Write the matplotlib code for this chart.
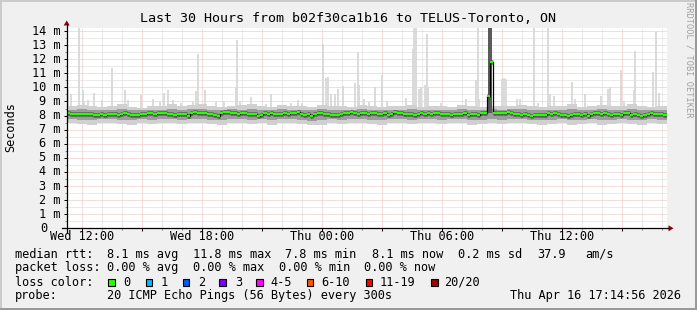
import matplotlib
matplotlib.use('Agg')
import matplotlib.pyplot as plt
import numpy as np
from matplotlib.patches import Rectangle, Polygon
from matplotlib.lines import Line2D
import matplotlib.transforms as mtransforms

W, H = 697, 310
MONO = 'DejaVu Sans Mono'

# ---------------- data ----------------
start_hour = 11.25          # Wed 11:15, left edge of the 30 h window
end_hour = 41.25
median_step = 1 / 6         # 10 minute bins
median_ms = [
    8.16, 8.14, 8.09, 8.09, 8.10, 8.09, 8.12, 8.14, 8.04, 8.04,
    8.09, 8.07, 8.09, 8.09, 8.10, 8.07, 8.09, 8.16, 8.12, 8.04,
    8.04, 8.06, 8.09, 8.10, 8.16, 8.16, 8.14, 8.19, 8.21, 8.20,
    8.09, 8.09, 8.07, 8.14, 8.12, 8.14,
    7.95, 8.20, 8.23, 8.21, 8.16, 8.16, 8.14, 8.09, 8.07, 8.00,
    8.16, 8.26, 8.28, 8.21, 8.16, 8.14, 8.16, 8.16, 8.14, 8.12,
    8.12, 8.00, 8.04, 8.16, 8.14, 8.16, 8.09, 8.09, 8.12, 8.16,
    8.14, 8.16, 8.21, 8.23, 8.09, 8.06,
    8.09, 8.00, 8.09, 8.16, 8.16, 8.14, 8.09, 8.06, 8.04, 8.04,
    8.09, 8.16, 8.16, 8.23, 8.21, 8.14, 8.16, 8.16, 8.14, 8.16,
    8.16, 8.12, 8.14, 8.16, 8.04, 8.09, 8.23, 8.16, 8.16, 8.14,
    8.12, 8.09, 8.07, 8.09, 8.16, 8.14,
    8.16, 8.14, 8.16, 8.16, 8.14, 8.12, 8.09, 8.07, 8.09, 8.14,
    8.09, 8.16, 8.07, 8.14, 8.12, 8.04, 8.16, 8.16, 9.40, 11.80,
    8.21, 8.21, 8.19, 8.21, 8.23, 8.21, 8.09, 8.09, 8.07, 8.09,
    8.06, 8.00, 8.04, 8.04, 8.06, 8.04,
    8.16, 8.14, 8.16, 8.14, 8.06, 8.04, 7.94, 8.04, 8.09, 8.09,
    8.07, 8.09, 8.00, 8.12, 8.16, 8.16, 8.14, 8.21, 8.09, 8.07,
    8.14, 8.09, 8.04, 8.21, 8.16, 8.04, 8.09, 8.06, 8.00, 8.02,
    8.14, 8.16, 8.14, 8.09, 8.09, 8.07,
]

band_step = 0.5             # 30 minute bins for the smoke bands
band_hi = [
    8.70, 8.75, 8.65, 8.60, 8.70, 8.80, 8.60, 8.55, 8.70, 8.65, 8.80, 8.70,
    8.75, 8.80, 8.65, 8.60, 8.70, 8.75, 8.85, 8.70, 8.60, 8.75, 8.70, 8.65,
    8.60, 8.75, 8.70, 8.65, 8.60, 8.75, 8.70, 8.60, 8.65, 8.70, 8.75, 8.60,
    8.70, 8.65, 8.60, 8.75, 8.70, 8.60, 8.70, 8.65, 8.70, 8.75, 8.65, 8.60,
    8.65, 8.70, 8.80, 8.60, 8.70, 8.75, 8.65, 8.70, 8.80, 8.70, 8.60, 8.65,
]
band_lo = [
    7.45, 7.40, 7.35, 7.45, 7.50, 7.40, 7.35, 7.45, 7.40, 7.50, 7.45, 7.40,
    7.50, 7.45, 7.40, 7.35, 7.45, 7.50, 7.40, 7.45, 7.35, 7.45, 7.50, 7.40,
    7.30, 7.35, 7.45, 7.40, 7.50, 7.45, 7.40, 7.35, 7.45, 7.50, 7.40, 7.45,
    7.45, 7.40, 7.50, 7.45, 7.35, 7.40, 7.45, 7.40, 7.50, 7.45, 7.40, 7.35,
    7.40, 7.45, 7.35, 7.40, 7.45, 7.35, 7.40, 7.45, 7.40, 7.35, 7.45, 7.40,
]
inner_hi = [
    8.40, 8.45, 8.38, 8.42, 8.40, 8.45, 8.38, 8.40, 8.42, 8.40, 8.45, 8.40,
    8.45, 8.48, 8.42, 8.40, 8.45, 8.42, 8.48, 8.42, 8.40, 8.45, 8.42, 8.40,
    8.38, 8.45, 8.42, 8.40, 8.42, 8.45, 8.42, 8.40, 8.42, 8.40, 8.45, 8.40,
    8.42, 8.40, 8.38, 8.45, 8.42, 8.40, 8.45, 8.42, 8.45, 8.45, 8.40, 8.38,
    8.40, 8.42, 8.45, 8.38, 8.42, 8.45, 8.40, 8.42, 8.45, 8.40, 8.38, 8.40,
]
inner_lo = [
    7.75, 7.70, 7.72, 7.75, 7.78, 7.70, 7.68, 7.75, 7.72, 7.78, 7.75, 7.72,
    7.78, 7.75, 7.72, 7.70, 7.75, 7.78, 7.72, 7.75, 7.70, 7.75, 7.78, 7.72,
    7.62, 7.68, 7.75, 7.72, 7.78, 7.75, 7.72, 7.70, 7.75, 7.78, 7.72, 7.75,
    7.75, 7.72, 7.78, 7.75, 7.70, 7.72, 7.75, 7.72, 7.78, 7.75, 7.72, 7.68,
    7.72, 7.75, 7.68, 7.72, 7.75, 7.70, 7.72, 7.75, 7.72, 7.68, 7.75, 7.72,
]

spike_hours = [
    11.32, 11.47, 11.87, 12.05, 12.13, 12.32, 12.63, 12.99, 13.51, 14.14,
    14.32, 14.97, 15.57, 15.89, 16.13, 16.30, 16.55, 16.97, 17.57, 17.69,
    17.81, 18.18, 18.72, 19.10, 19.72, 19.78, 19.89, 20.46, 21.22, 21.47,
    22.47, 22.82, 23.02, 24.07, 24.20, 24.30, 24.44, 24.67, 24.83, 25.08,
    25.68, 25.80, 25.89, 26.12, 26.35, 26.67, 27.02, 27.27, 28.22, 28.55,
    28.64, 28.74, 28.87, 28.99, 29.17, 29.27, 29.34, 29.97, 31.19, 31.72,
    31.81, 31.88, 33.02, 33.12, 33.22, 33.74, 33.92, 34.59, 34.82, 35.29,
    35.39, 35.62, 36.52, 36.67, 37.17, 37.97, 38.30, 38.43, 38.97, 39.12,
    39.62, 39.68, 40.57, 40.72, 40.87,
]
spike_ms = [
    9.90, 9.50, 14.30, 9.80, 9.00, 9.10, 9.60, 9.10, 11.40, 9.80,
    9.10, 9.45, 9.15, 8.95, 9.60, 9.80, 9.10, 8.90, 8.95, 9.75,
    12.40, 9.80, 8.95, 9.00, 10.00, 13.35, 9.00, 9.35, 8.80, 9.50,
    8.90, 9.10, 8.90, 13.10, 10.70, 10.75, 9.50, 9.50, 9.90, 10.10,
    10.30, 12.50, 10.20, 9.20, 8.95, 10.00, 10.90, 9.00, 9.25, 12.70,
    14.30, 14.30, 9.90, 10.00, 10.20, 13.80, 10.00, 8.90, 9.20, 10.50,
    14.30, 9.20, 10.60, 10.70, 10.60, 9.20, 9.20, 14.30, 8.90, 14.30,
    9.50, 9.40, 10.40, 9.20, 9.50, 9.40, 9.90, 10.00, 11.20, 9.00,
    9.80, 12.60, 11.10, 13.90, 9.60,
]

burst_hours = [32.30, 32.40]      # left edges of the two high samples
burst_lo = [8.20, 8.20]
burst_hi = [14.30, 14.30]

x_tick_hours = [12, 18, 24, 30, 36]
x_tick_labels = ['Wed 12:00', 'Wed 18:00', 'Thu 00:00', 'Thu 06:00', 'Thu 12:00']
y_ticks = list(range(0, 15))
y_tick_labels = ['0'] + ['%d m' % i for i in range(1, 15)]

title = 'Last 30 Hours from b02f30ca1b16 to TELUS-Toronto, ON'
loss_labels = ['0', '1', '2', '3', '4-5', '6-10', '11-19', '20/20']
loss_colors = ['#26ff00', '#00b8ff', '#0059ff', '#7e00ff', '#ff00ff',
               '#ff5500', '#ff0000', '#a10000']

# ---------------- figure ----------------
fig = plt.figure(figsize=(W / 100, H / 100), dpi=100, facecolor='#f0f0f0')


def fx(x):
    return x / W


def fy(y):
    return 1 - y / H


ax_left, ax_right, ax_top, ax_bottom = 66.7, 666.7, 28.0, 228.3
ax = fig.add_axes([fx(ax_left), fy(ax_bottom), (ax_right - ax_left) / W,
                   (ax_bottom - ax_top) / H])
ax.set_facecolor('white')
ax.set_xlim(start_hour, end_hour)
ax.set_ylim(0, (ax_bottom - ax_top) / 14.09)
for s in ax.spines.values():
    s.set_visible(False)

# grid
ax.set_xticks(np.arange(12, 41, 3))
ax.set_xticks(np.arange(12, 42, 1), minor=True)
ax.set_yticks(y_ticks)
ax.set_yticks(np.arange(0.5, 14.5, 1), minor=True)
ax.set_xticklabels([])
ax.set_yticklabels([])
ax.grid(which='major', color='#eebcbc', linestyle=(0, (1, 1)), linewidth=0.72)
ax.grid(which='minor', color='#d6d6d6', linestyle=(0, (1, 1)), linewidth=0.72)
ax.set_axisbelow(True)
ax.tick_params(which='major', direction='out', length=2.5, width=0.72,
               color='#000000')
ax.tick_params(which='minor', direction='out', length=1.6, width=0.72,
               color='#888888')

# smoke
bx = start_hour + band_step * np.arange(len(band_hi) + 1)
ax.fill_between(bx, band_lo + band_lo[-1:], band_hi + band_hi[-1:],
                step='post', color='#d0d0d0', lw=0, zorder=2)
ax.fill_between(bx, inner_lo + inner_lo[-1:], inner_hi + inner_hi[-1:],
                step='post', color='#9c9c9c', lw=0, zorder=3)
ax.vlines(spike_hours, 8.3, spike_ms, color='#d8d8d8', lw=1.3, zorder=1.5)
for h0, lo, hi in zip(burst_hours, burst_lo, burst_hi):
    ax.fill_between([h0, h0 + 0.1], [lo, lo], [hi, hi],
                    color='#5a5a5a', lw=0, zorder=3.5)

# median
mx = start_hour + median_step * np.arange(len(median_ms) + 1)
ax.hlines(median_ms, mx[:-1], mx[1:], color='#4a4a4a', lw=3.4,
          alpha=0.7, zorder=4)
ax.step(mx, median_ms + median_ms[-1:], where='post', color='black',
        lw=0.9, zorder=5)
ax.hlines(median_ms, mx[:-1], mx[1:], color='#26ff00', lw=1.5, zorder=6)

# axis lines with arrows
arrow_c = '#8b0000'
fig.add_artist(Line2D([fx(62), fx(668)], [fy(ax_bottom), fy(ax_bottom)],
                      color='black', lw=0.9))
fig.add_artist(Line2D([fx(ax_left), fx(ax_left)], [fy(232), fy(24)],
                      color='black', lw=0.9))
fig.add_artist(Polygon([[fx(ax_left), fy(20.5)], [fx(ax_left - 3), fy(25.5)],
                        [fx(ax_left + 3), fy(25.5)]], closed=True,
                       color=arrow_c, lw=0))
fig.add_artist(Polygon([[fx(673.5), fy(ax_bottom)], [fx(668.5), fy(ax_bottom - 3)],
                        [fx(668.5), fy(ax_bottom + 3)]], closed=True,
                       color=arrow_c, lw=0))

FS = 8.6
# y tick labels
ytrans = mtransforms.blended_transform_factory(fig.transFigure, ax.transData)
for v, lab in zip(y_ticks, y_tick_labels):
    xr = 60.6 if lab.endswith('m') else 47.2
    fig.text(fx(xr), v, lab, transform=ytrans, ha='right', va='center',
             family=MONO, fontsize=FS)
# x tick labels
xtrans = mtransforms.blended_transform_factory(ax.transData, fig.transFigure)
for h, lab in zip(x_tick_hours, x_tick_labels):
    fig.text(h, fy(237), lab, transform=xtrans, ha='center', va='center',
             family=MONO, fontsize=FS)

# title and labels
fig.text(fx(347.5), fy(19), title, ha='center', va='center', family=MONO,
         fontsize=9.6)
fig.text(fx(10.5), fy(127), 'Seconds', rotation=90, ha='center',
         va='center', family=MONO, fontsize=FS)
fig.text(fx(688.5), fy(60), 'RRDTOOL / TOBI OETIKER', rotation=270,
         ha='center', va='center', family=MONO, fontsize=6.2, color='#a0a0a0')

# legend
def row(y, pieces):
    for x, s in pieces:
        fig.text(fx(x - 0.7), fy(y), s, ha='left', va='center', family=MONO,
                 fontsize=FS)

row(254.3, [(16, 'median rtt:'), (107.3, '8.1 ms avg'), (193.3, '11.8 ms max'),
            (286, '7.8 ms min'), (372.3, '8.1 ms now'), (459, '0.2 ms sd'),
            (538, '37.9'), (586, 'am/s')])
row(267.7, [(16, 'packet loss:'), (107.3, '0.00 % avg'), (193.3, '0.00 % max'),
            (279.3, '0.00 % min'), (365, '0.00 % now')])
row(282, [(16, 'loss color:')])
box_x = [108.3, 145.7, 182.7, 219.3, 256.0, 306.7, 365.7, 431.0]
lab_x = [124.0, 161.7, 199.3, 236.0, 270.7, 321.7, 380.7, 445.0]
for bxp, lxp, lab, col in zip(box_x, lab_x, loss_labels, loss_colors):
    fig.add_artist(Rectangle((fx(bxp), fy(285.5)), 6.7 / W, 7 / H,
                             facecolor=col, edgecolor='black', lw=0.8))
    fig.text(fx(lxp - 0.7), fy(282), lab, ha='left', va='center',
             family=MONO, fontsize=FS)
row(295.3, [(16, 'probe:'), (107.3, '20 ICMP Echo Pings (56 Bytes) every 300s')])
fig.text(fx(681), fy(295.3), 'Thu Apr 16 17:14:56 2026', ha='right',
         va='center', family=MONO, fontsize=FS)

# 3D frame
fig.add_artist(Rectangle((0, fy(2)), 1, 2 / H, color='#cbcbcb', lw=0))
fig.add_artist(Rectangle((0, 0), 2 / W, 1, color='#cbcbcb', lw=0))
fig.add_artist(Rectangle((0, 0), 1, 2 / H, color='#999999', lw=0))
fig.add_artist(Rectangle((fx(695), 0), 2 / W, 1, color='#999999', lw=0))

fig.savefig('out.png', dpi=100, facecolor=fig.get_facecolor())
